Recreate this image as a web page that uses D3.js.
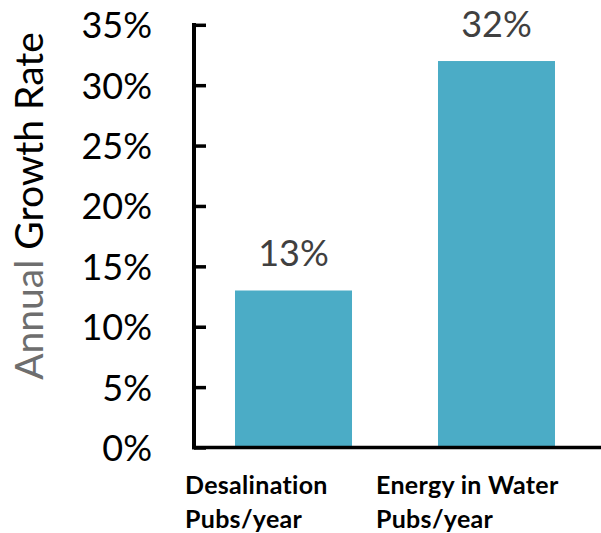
<!DOCTYPE html>
<html>
<head>
<meta charset="utf-8">
<script src="https://cdn.jsdelivr.net/npm/d3@7"></script>
<style>
  html, body { margin: 0; padding: 0; background: #fff; }
  svg { display: block; }
</style>
</head>
<body>
<svg id="chart" width="601" height="533"></svg>
<script>
// Categories (two-line labels) and their annual growth rates, in percent
const categories = ["Desalination Pubs/year", "Energy in Water Pubs/year"];
const labelLines = [["Desalination", "Pubs/year"], ["Energy in Water", "Pubs/year"]];
const growthRates = [13, 32];
const yTicks = [0, 5, 10, 15, 20, 25, 30, 35];

const W = 601, H = 533;
const svg = d3.select("#chart");

const x = d3.scaleBand()
  .domain(categories)
  .range([194, 596])
  .paddingInner(0.4236)
  .paddingOuter(0.202);

const y = d3.scaleLinear()
  .domain([0, 35])
  .range([447.5, 24.8]);

// Bars
svg.append("g").selectAll("rect")
  .data(categories)
  .join("rect")
  .attr("x", d => x(d))
  .attr("width", x.bandwidth())
  .attr("y", (d, i) => y(growthRates[i]))
  .attr("height", (d, i) => y(0) - y(growthRates[i]))
  .attr("fill", "#4BACC6");

// Value labels above bars
svg.append("g").selectAll("text")
  .data(categories)
  .join("text")
  .attr("x", d => x(d) + x.bandwidth() / 2)
  .attr("y", (d, i) => y(growthRates[i]) - 24)
  .attr("text-anchor", "middle")
  .attr("font-family", "Lato, sans-serif")
  .attr("font-size", 36)
  .attr("fill", "#404040")
  .text((d, i) => growthRates[i] + "%");

// Y axis: ticks point into the plot area
const yAxis = d3.axisRight(y)
  .tickValues(yTicks)
  .tickSize(12)
  .tickFormat(d => d + "%");

const yg = svg.append("g")
  .attr("transform", "translate(194,0)")
  .call(yAxis);
yg.select(".domain").remove();
yg.selectAll(".tick line")
  .attr("stroke", "#000")
  .attr("stroke-width", 3.5);
yg.selectAll(".tick text")
  .attr("x", -42)
  .attr("dy", "0.36em")
  .attr("text-anchor", "end")
  .attr("font-family", "Lato, sans-serif")
  .attr("font-size", 36)
  .attr("fill", "#000");

// Axis lines
svg.append("line")
  .attr("x1", 194).attr("x2", 194)
  .attr("y1", y(35) - 1.7).attr("y2", y(0) + 1.7)
  .attr("stroke", "#000").attr("stroke-width", 4);
svg.append("line")
  .attr("x1", 192).attr("x2", W)
  .attr("y1", y(0)).attr("y2", y(0))
  .attr("stroke", "#000").attr("stroke-width", 3.5);

// Category labels, left-aligned beneath each bar
const labelShift = [-50, -62];
const xl = svg.append("g").selectAll("text")
  .data(categories)
  .join("text")
  .attr("font-family", "Lato, sans-serif")
  .attr("font-weight", "bold")
  .attr("font-size", 25)
  .attr("letter-spacing", 0.3)
  .attr("fill", "#000");
xl.each(function(d, i) {
  const t = d3.select(this);
  labelLines[i].forEach((line, j) => {
    t.append("tspan")
      .attr("x", x(d) + labelShift[i])
      .attr("y", 494 + j * 34)
      .text(line);
  });
});

// Y axis title, two-tone
const title = svg.append("text")
  .attr("transform", "translate(43,206) rotate(-90)")
  .attr("text-anchor", "middle")
  .attr("font-family", "Lato, sans-serif")
  .attr("font-size", 39);
title.append("tspan").attr("fill", "#6e6e6e").text("Annual ");
title.append("tspan").attr("fill", "#000").text("Growth Rate");
</script>
</body>
</html>
